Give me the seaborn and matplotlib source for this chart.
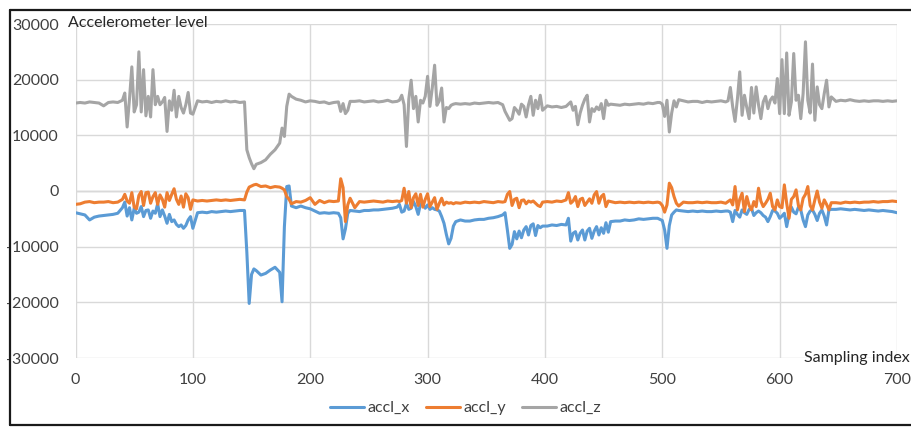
import matplotlib
matplotlib.use("Agg")
import matplotlib.pyplot as plt
from matplotlib.lines import Line2D
import seaborn as sns
import pandas as pd

# ---------------- data ----------------
sample_index = (
    [0, 4, 8, 12, 16, 20, 24, 28, 32, 36, 40]
    + [42, 44, 46, 48, 50, 52, 54, 56, 58, 60, 62, 64, 66, 68, 70, 72, 74, 76, 78, 80,
       82, 84, 86, 88, 90, 92, 94, 96, 98, 100]
    + [104, 108, 112, 116, 120, 124, 128, 132, 136, 140, 144]
    + [146, 148, 150, 152, 154, 158, 162, 166, 170, 174, 176, 178, 180, 182, 184]
    + [188, 192, 196, 200, 204, 208, 212, 216, 220, 224]
    + [226, 228, 230, 232, 234]
    + [238, 242, 246, 250, 254, 258, 262, 266, 270, 274]
    + [276, 278, 280, 282, 284, 286, 288, 290, 292, 294, 296, 298, 300, 302, 304, 306,
       308, 310, 312, 314, 316, 318, 320, 322, 324]
    + [328, 332, 336, 340, 344, 348, 352, 356, 360, 364]
    + [366, 368, 370, 372, 374, 376, 378, 380, 382, 384, 386, 388, 390, 392, 394, 396, 398]
    + [402, 406, 410, 414, 418]
    + [420, 422, 424, 426, 428, 430, 432, 434, 436, 438, 440, 442, 444, 446, 448, 450,
       452, 454, 456]
    + [460, 464, 468, 472, 476, 480, 484, 488, 492, 496]
    + [498, 500, 502, 504, 506, 508, 510, 512, 514]
    + [518, 522, 526, 530, 534, 538, 542, 546, 550, 554]
    + [556, 558, 560, 562, 564, 566, 568, 570, 572, 574, 576, 578, 580, 582, 584, 586,
       588, 590, 592, 594, 596, 598, 600, 602, 604, 606, 608, 610, 612, 614, 616, 618,
       620, 622, 624, 626, 628, 630, 632, 634, 636, 638, 640, 642, 644]
    + [648, 652, 656, 660, 664, 668, 672, 676, 680, 684, 688, 692, 696, 700]
)

accl_x = (
    [-3900, -4100, -4300, -5200, -4700, -4500, -4400, -4300, -4200, -4000, -3000]
    + [-2000, -4500, -3000, -5200, -3100, -4000, -3800, -2800, -4600, -3500, -3400, -4900,
       -3600, -4000, -2300, -4600, -3400, -4500, -5800, -4200, -5500, -5200, -6000, -6400,
       -6100, -6700, -6200, -5200, -4600, -6700]
    + [-3900, -3800, -3900, -3700, -3800, -3700, -3600, -3700, -3600, -3500, -3500]
    + [-11000, -20200, -15000, -14000, -14300, -15100, -14800, -14200, -13700, -14600,
       -19900, -6400, 800, 900, -2700]
    + [-3000, -2700, -3000, -3200, -3600, -4000, -3900, -4000, -3900, -4000]
    + [-4800, -8600, -6800, -4000, -3500]
    + [-3600, -3700, -3500, -3500, -3400, -3400, -3300, -3200, -3100, -2900]
    + [-2400, -3800, -3600, -2200, -3300, -3100, -1900, -2800, -4200, -2300, -2400, -3100,
       -2500, -3300, -3000, -3300, -3400, -3600, -4600, -5800, -7800, -9500, -8500, -6300,
       -5500]
    + [-5200, -5400, -5400, -5200, -5100, -5100, -4900, -4800, -4600, -4300]
    + [-3900, -7000, -10300, -9600, -7300, -8600, -7200, -8400, -7000, -6400, -7900, -6200,
       -5900, -8000, -6200, -6600, -6300]
    + [-6300, -6100, -6200, -6000, -6100]
    + [-4900, -9000, -7600, -7300, -8800, -7600, -7000, -8800, -7200, -6700, -8500, -7200,
       -6400, -7900, -6600, -7600, -5700, -7400, -5500]
    + [-5400, -5400, -5200, -5300, -5200, -5000, -5100, -5000, -4900, -4900]
    + [-5100, -5300, -7000, -10300, -6200, -4300, -3800, -3400, -3500]
    + [-3600, -3700, -3600, -3700, -3600, -3700, -3700, -3600, -3700, -3600]
    + [-3600, -3800, -5500, -3500, -4200, -4700, -3400, -3900, -4200, -3300, -3100, -4400,
       -3900, -3600, -3900, -4400, -4700, -5500, -4600, -3500, -3600, -4000, -4900, -4500,
       -4000, -6400, -4200, -2900, -3800, -4100, -2900, -3400, -5200, -6400, -4300, -3600,
       -3400, -4200, -5300, -4000, -3400, -4500, -6100, -3400, -3300]
    + [-3300, -3200, -3300, -3400, -3300, -3400, -3500, -3400, -3500, -3600, -3500, -3600,
       -3700, -3900]
)

accl_y = (
    [-2400, -2300, -2000, -1900, -2100, -2000, -2000, -1900, -2100, -2000, -1500]
    + [-600, -1800, -2200, -300, -2900, -3200, -800, -100, -2600, -300, -200, -2200, -1000,
       -300, -2400, -700, -1500, -2900, -300, -1700, -600, 400, -1500, -2400, -900, -2900,
       -500, -1200, -3300, -1600]
    + [-1800, -1700, -1800, -1700, -1600, -1700, -1600, -1700, -1600, -1500, -1600]
    + [-200, 700, 900, 1100, 1200, 800, 900, 600, 800, 700, 500, 200, -1000, -1500, -2300]
    + [-1900, -2000, -1700, -1200, -2400, -1700, -2100, -1800, -1900, -1800]
    + [2200, 600, -5500, -2500, -1300]
    + [-3000, -1900, -2000, -1900, -1800, -1900, -2000, -1800, -1900, -1800]
    + [-1900, -1700, 500, -2200, -100, -3000, -1200, -500, -2600, -600, -2900, -1500, -500,
       -2800, -2000, -1200, -3300, -2200, -1300, -2500, -2000, -2200, -2100, -2300, -2100]
    + [-2200, -2000, -2100, -2000, -2100, -1900, -2000, -2100, -1900, -2000]
    + [-1900, -600, -100, -2600, -1500, -1300, -3000, -1700, -1600, -2300, -1800, -2000,
       -1800, -2200, -2600, -2800, -2000]
    + [-1900, -2000, -1800, -1900, -1600]
    + [-300, -2200, -1800, -1000, -2800, -1500, -1300, -2600, -2000, -1400, -2200, -700,
       -100, -2200, -1000, -600, -2800, -1800, -1900]
    + [-2100, -2000, -2100, -2000, -2100, -2000, -2100, -2000, -2100, -2000]
    + [-2100, -2600, -3800, -2500, 1400, 600, -1000, -2200, -2700]
    + [-2000, -2100, -2100, -2000, -2100, -2000, -2100, -2100, -2000, -2200]
    + [-1900, -1600, -2500, 800, -3400, -1500, -400, -3700, -1000, -2600, -3400, -1900,
       -2800, 500, -1800, -2800, -2200, -1500, -400, -2800, -3400, -1600, -2800, -3000,
       1100, -2200, -4900, -1500, -1000, 200, -2600, -3400, -1300, -600, 800, -2600,
       -3400, -1600, 0, -2000, -3100, -1600, -2400, -3400, -2100]
    + [-2100, -2200, -2000, -2100, -2000, -2100, -2000, -2000, -1900, -2000, -1900, -1900,
       -1800, -1900]
)

accl_z = (
    [15800, 15900, 15800, 16000, 15900, 15800, 15300, 15900, 16000, 15900, 16300]
    + [17600, 11500, 16500, 22300, 14200, 15500, 25000, 14200, 21800, 13500, 17000, 13300,
       21800, 15500, 17000, 15500, 16000, 16800, 10700, 16200, 14500, 18100, 13300, 17000,
       15000, 14000, 15500, 17700, 14000, 13800]
    + [16200, 16000, 16100, 15900, 16100, 16000, 16200, 16000, 16100, 15900, 16000]
    + [7400, 6000, 4900, 4000, 4800, 5100, 5600, 6600, 7400, 8600, 11300, 9800, 15200,
       17400, 17000]
    + [16500, 16300, 16000, 16200, 16100, 15900, 16000, 15700, 15900, 16000]
    + [14300, 15700, 13900, 14500, 16100]
    + [16100, 16200, 16000, 16100, 16200, 16000, 16100, 16300, 16000, 16100]
    + [16300, 17200, 15500, 8000, 16500, 19900, 14800, 17000, 12400, 16300, 15800, 17000,
       20600, 15200, 18500, 22600, 15400, 16200, 18500, 12400, 15000, 14800, 15400, 15600,
       15700]
    + [15600, 15700, 15600, 15800, 15700, 15800, 15900, 15800, 15900, 15500]
    + [14300, 13500, 12700, 13000, 15000, 14500, 13800, 15600, 15200, 13300, 15500, 17000,
       13600, 16300, 14800, 17200, 14500]
    + [15300, 15100, 15200, 15000, 15200]
    + [15600, 16000, 14500, 15200, 11900, 14000, 15400, 16500, 17200, 12400, 14800, 14300,
       15100, 14600, 15700, 13000, 16300, 15400, 15600]
    + [15500, 15400, 15600, 15500, 15600, 15700, 15600, 15800, 15700, 15900]
    + [15900, 15600, 13400, 16300, 10600, 14000, 16200, 15100, 16400]
    + [16200, 16000, 16100, 16100, 15900, 16100, 16000, 16100, 16200, 16000]
    + [16200, 18600, 15100, 12500, 16500, 21400, 13600, 17200, 15000, 13000, 18600, 14000,
       18700, 15500, 13000, 16000, 17000, 14800, 16300, 16900, 15800, 20200, 13900, 23600,
       13900, 24800, 13600, 16000, 24700, 16300, 17200, 13000, 17500, 26800, 16300, 14000,
       22800, 12700, 18700, 15500, 14800, 17500, 19900, 15100, 16900]
    + [16100, 16300, 16200, 16400, 16200, 16100, 16200, 16100, 16200, 16200, 16100, 16200,
       16100, 16200]
)

series_names = ["accl_x", "accl_y", "accl_z"]
series_colors = ["#5B9BD5", "#ED7D31", "#A5A5A5"]
x_ticks = [0, 100, 200, 300, 400, 500, 600, 700]
y_ticks = [-30000, -20000, -10000, 0, 10000, 20000, 30000]
y_title = "Accelerometer level"
x_title = "Sampling index"

assert len(sample_index) == len(accl_x) == len(accl_y) == len(accl_z)

# ---------------- figure ----------------
sns.set_theme(style="white")
plt.rcParams["font.family"] = ["Lato", "DejaVu Sans"]
plt.rcParams["axes.unicode_minus"] = False

n = len(sample_index)
df = pd.DataFrame({
    "index": sample_index * 3,
    "value": accl_x + accl_y + accl_z,
    "series": [series_names[0]] * n + [series_names[1]] * n + [series_names[2]] * n,
})

W, H = 911, 428
FS = 11.5
fig = plt.figure(figsize=(W / 100, H / 100), dpi=100)
fig.patch.set_facecolor("white")
left_px, right_px, top_px, bottom_px = 75.5, 897.0, 24.0, 358.0
ax = fig.add_axes([left_px / W, 1 - bottom_px / H,
                   (right_px - left_px) / W, (bottom_px - top_px) / H])

sns.lineplot(data=df, x="index", y="value", hue="series",
             palette=dict(zip(series_names, series_colors)),
             linewidth=2.2, estimator=None, errorbar=None, ax=ax)

ax.set_xlim(x_ticks[0], x_ticks[-1])
ax.set_ylim(y_ticks[0], y_ticks[-1])
ax.set_xticks(x_ticks)
ax.set_yticks(y_ticks)
ax.set_xticklabels([str(v) for v in x_ticks])
ax.set_yticklabels([str(v) for v in y_ticks])
ax.set_xlabel("")
ax.set_ylabel("")
ax.set_axisbelow(True)
ax.grid(True, color="#d9d9d9", linewidth=1.0)
ax.axhline(0, color="#bfbfbf", linewidth=1.0, zorder=0.5)
for s in ax.spines.values():
    s.set_visible(False)
ax.tick_params(axis="both", length=0, labelsize=FS, colors="#404040")
ax.tick_params(axis="x", pad=10.5)
ax.tick_params(axis="y", pad=12)

sns.move_legend(ax, "center", bbox_to_anchor=(466 / W, 1 - 408 / H),
                bbox_transform=fig.transFigure, ncol=3, frameon=False, title=None,
                fontsize=FS, handlelength=2.1, handletextpad=0.25, columnspacing=1.0)
for t in ax.get_legend().get_texts():
    t.set_color("#404040")

fig.text(68 / W, 1 - 23 / H, y_title, ha="left", va="center", fontsize=FS, color="#262626")
fig.text(910 / W, 1 - 358 / H, x_title, ha="right", va="center", fontsize=FS, color="#262626")

# outer chart border
bx0, by0, by1 = 9.5 / W, 1 - 10 / H, 1 - 425 / H
for xs, ys in [([bx0, bx0], [by0, by1]), ([bx0, 1.0], [by0, by0]), ([bx0, 1.0], [by1, by1])]:
    fig.add_artist(Line2D(xs, ys, transform=fig.transFigure, color="#1a1a1a", linewidth=1.6))

fig.savefig("out.png", dpi=100, facecolor="white")
